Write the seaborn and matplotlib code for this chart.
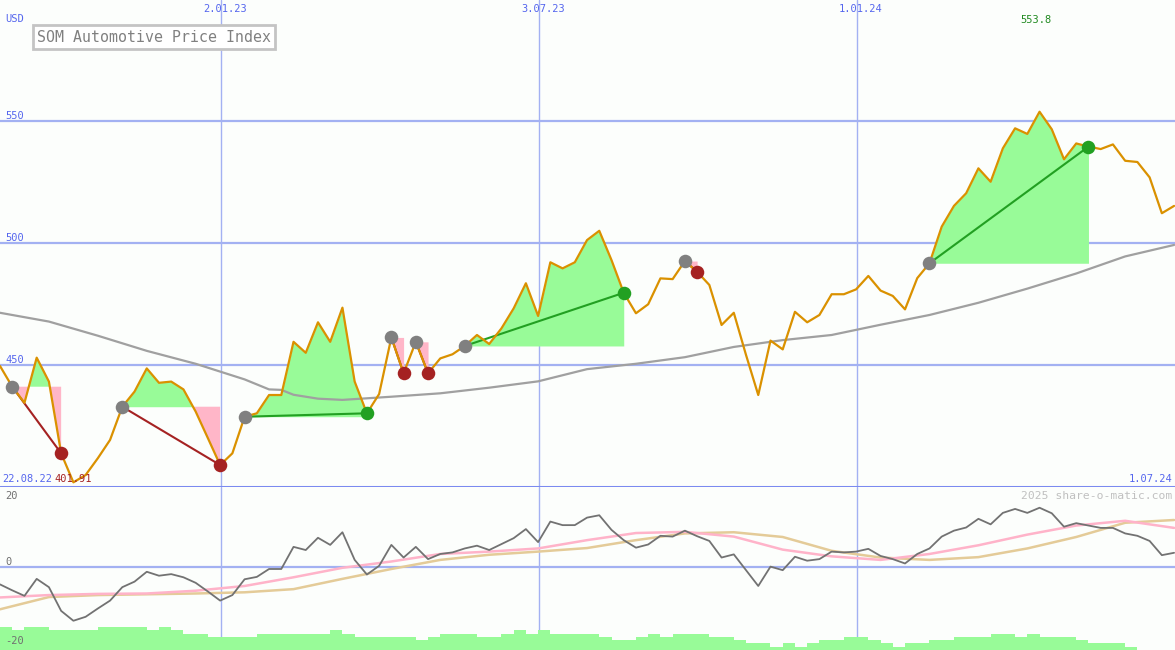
"""
SOM Automotive Price Index - weekly chart with trade signals and oscillator
"""
import numpy as np
import pandas as pd
import matplotlib
matplotlib.use("Agg")
import matplotlib.pyplot as plt
import seaborn as sns

# weekly closes (week 0 = first bar on the chart)
price = [449.6, 441.1, 434.5, 453.0, 443.2, 413.8, 401.91, 404.9, 411.8, 419.3,
         432.9, 439.1, 448.6, 442.7, 443.2, 440.0, 430.9, 420.0, 409.0, 413.8,
         428.8, 430.2, 437.7, 437.7, 459.5, 455.0, 467.5, 459.5, 473.5, 443.2,
         430.2, 438.1, 461.3, 446.6, 459.5, 446.6, 452.7, 454.4, 457.8, 462.3,
         458.6, 465.0, 473.2, 483.5, 470.1, 492.1, 489.6, 492.1, 501.2, 505.0,
         493.0, 479.6, 471.2, 474.9, 485.5, 485.2, 492.6, 488.2, 482.8, 466.4,
         471.4, 454.1, 437.7, 460.0, 456.4, 471.8, 467.5, 470.5, 479.0, 479.0,
         481.0, 486.5, 480.5, 478.3, 472.8, 485.6, 491.7, 506.7, 515.2, 520.4,
         530.6, 525.1, 538.8, 547.0, 544.7, 553.8, 546.6, 534.3, 540.8, 539.5,
         538.5, 540.4, 533.7, 533.2, 526.9, 512.2, 515.2]

# long moving average (grey), read at a few weeks
sma_weeks = [0, 4, 8, 12, 16, 20, 22, 23, 24, 26, 28, 32, 36, 40, 44, 48, 52,
             56, 60, 64, 68, 72, 76, 80, 84, 88, 92, 96]
sma = [471.4, 467.8, 462.0, 455.8, 450.5, 444.1, 440.0, 439.8, 437.8, 436.2,
       435.7, 437.0, 438.4, 440.7, 443.3, 448.3, 450.5, 453.2, 457.4, 460.2,
       462.3, 466.5, 470.5, 475.5, 481.3, 487.5, 494.5, 499.2]

# momentum oscillator (lower panel)
osc = [-4.4, -5.9, -7.3, -3.0, -5.1, -11.1, -13.6, -12.6, -10.5, -8.5,
       -5.1, -3.7, -1.2, -2.2, -1.8, -2.6, -4.0, -6.2, -8.5, -7.1,
       -3.1, -2.5, -0.5, -0.5, 5.1, 4.3, 7.4, 5.6, 8.8, 1.8,
       -1.9, 0.3, 5.6, 2.4, 5.1, 2.0, 3.3, 3.7, 4.7, 5.4,
       4.3, 5.8, 7.3, 9.6, 6.3, 11.5, 10.6, 10.6, 12.5, 13.1,
       9.4, 6.8, 4.9, 5.7, 7.9, 7.7, 9.2, 7.8, 6.6, 2.4,
       3.2, -0.8, -4.8, 0.1, -0.8, 2.6, 1.6, 2.0, 3.9, 3.7,
       3.9, 4.6, 2.8, 2.0, 0.9, 3.3, 4.7, 7.7, 9.2, 10.0,
       12.2, 10.8, 13.7, 14.7, 13.7, 15.0, 13.6, 10.2, 11.1, 10.5,
       9.9, 9.9, 8.5, 7.9, 6.6, 3.0, 3.6]

# oscillator averages, read every 4 weeks
avg_weeks = [0, 4, 8, 12, 16, 20, 24, 28, 32, 36, 40, 44, 48, 52, 56, 60, 64,
             68, 72, 76, 80, 84, 88, 92, 96]
osc_fast = [-7.7, -7.1, -6.8, -6.7, -6.0, -4.8, -2.6, -0.2, 1.4, 3.3, 3.9, 4.7,
            6.8, 8.6, 8.9, 7.7, 4.4, 2.7, 1.8, 3.3, 5.5, 8.2, 10.5, 11.7, 9.9]
osc_slow = [-10.7, -7.6, -7.1, -6.9, -6.7, -6.4, -5.6, -3.0, -0.5, 1.8, 3.1, 3.9,
            4.8, 6.8, 8.5, 8.8, 7.6, 4.1, 2.4, 1.8, 2.5, 4.7, 7.6, 11.2, 11.9]

# volume steps at the bottom
volume = [7, 6, 7, 7, 6, 6, 6, 6, 7, 7, 7, 7, 6, 7, 6, 5, 5, 4, 4, 4,
          4, 5, 5, 5, 5, 5, 5, 6, 5, 4, 4, 4, 4, 4, 3, 4, 5, 5, 5, 4,
          4, 5, 6, 5, 6, 5, 5, 5, 5, 4, 3, 3, 4, 5, 4, 5, 5, 5, 4, 4,
          3, 2, 2, 1, 2, 1, 2, 3, 3, 4, 4, 3, 2, 1, 2, 2, 3, 3, 4, 4,
          4, 5, 5, 4, 5, 4, 4, 4, 3, 2, 2, 2, 1]

# (entry week, exit week)
trades = [(1, 5), (10, 18), (20, 30), (32, 33), (34, 35), (38, 51), (56, 57), (76, 89)]

date_weeks = [18.07, 44.07, 70.07]
date_labels = ["2.01.23", "3.07.23", "1.01.24"]
price_ticks = [550, 500, 450]
osc_ticks = [20, 0, -20]
start_label = "22.08.22"
end_label = "1.07.24"
title = "SOM Automotive Price Index"
watermark = "2025 share-o-matic.com"

W, H = 1175, 650
BG = "#fcfefc"
GRID = "#a3b1f2"
BLUE = "#5566ee"
ORANGE = "#da9100"
FILL_UP = "#98fb98"
FILL_DN = "#ffb6c8"
WIN = "#22a022"
LOSS = "#a52222"

sns.set_theme(style="white")
plt.rcParams["font.family"] = ["DejaVu Sans Mono", "DejaVu Sans"]


def fx(px):
    return px / W


def fy(py):
    return 1 - py / H


df = pd.DataFrame({"week": np.arange(len(price)), "price": price, "osc": osc})
df_sma = pd.DataFrame({"week": sma_weeks, "sma": sma})
df_avg = pd.DataFrame({"week": avg_weeks, "fast": osc_fast, "slow": osc_slow})

fig = plt.figure(figsize=(W / 100, H / 100), dpi=100, facecolor=BG)
ax1 = fig.add_axes([0, fy(487), 1, 487 / H])
ax2 = fig.add_axes([0, 0, 1, fy(487)])
for ax in (ax1, ax2):
    ax.set_facecolor(BG)
    for s in ax.spines.values():
        s.set_visible(False)
    ax.set_xticks([])
    ax.set_yticks([])
    ax.set_xlim(0, W / 12.23)
    ax.set_xlabel("")
    ax.set_ylabel("")

ax1.set_ylim(400, 400 + 487 / 2.44)
ax2.set_ylim(-21.0, 20.25)

# grid
for v in price_ticks:
    ax1.axhline(v, color=GRID, lw=1.6, zorder=0)
for wk in date_weeks:
    ax1.axvline(wk, color=GRID, lw=1.0, zorder=0)
    ax2.axvline(wk, color=GRID, lw=1.0, zorder=0)
ax1.axhline(400, color="#7b8af0", lw=2.2, zorder=5, clip_on=False)
ax2.axhline(0, color=GRID, lw=1.6, zorder=0)

# trade fills and connecting lines
wk_arr = df["week"].to_numpy()
px_arr = df["price"].to_numpy()
for e, x in trades:
    w = wk_arr[e:x + 1]
    p = px_arr[e:x + 1]
    lvl = px_arr[e]
    ax1.fill_between(w, p, lvl, where=p >= lvl, interpolate=True,
                     color=FILL_UP, lw=0, zorder=1)
    ax1.fill_between(w, p, lvl, where=p <= lvl, interpolate=True,
                     color=FILL_DN, lw=0, zorder=1)

sns.lineplot(data=df_sma, x="week", y="sma", ax=ax1, color="#a0a0a0", lw=1.6, zorder=2)

for e, x in trades:
    c = WIN if px_arr[x] > px_arr[e] else LOSS
    ax1.plot([wk_arr[e], wk_arr[x]], [px_arr[e], px_arr[x]], color=c, lw=1.5, zorder=3)

sns.lineplot(data=df, x="week", y="price", ax=ax1, color=ORANGE, lw=1.6, zorder=4)

for e, x in trades:
    c = WIN if px_arr[x] > px_arr[e] else LOSS
    ax1.scatter(wk_arr[e], px_arr[e], s=95, color="#808080", lw=0, zorder=6)
    ax1.scatter(wk_arr[x], px_arr[x], s=95, color=c, lw=0, zorder=6)

# lower panel
sns.lineplot(data=df_avg, x="week", y="slow", ax=ax2, color="#e4cb98", lw=1.8, zorder=2)
sns.lineplot(data=df_avg, x="week", y="fast", ax=ax2, color="#ffb3c9", lw=1.8, zorder=3)
sns.lineplot(data=df, x="week", y="osc", ax=ax2, color="#727272", lw=1.3, zorder=4)
ax2.set_xlabel("")
ax2.set_ylabel("")
ax1.set_xlabel("")
ax1.set_ylabel("")

ax3 = ax2.twinx()
ax3.bar(np.arange(len(volume)), volume, width=1.0, align="edge",
        color=FILL_UP, lw=0)
ax3.set_ylim(0, 163 / 3.3)
ax3.set_xlim(0, W / 12.23)
ax3.set_yticks([])
for s in ax3.spines.values():
    s.set_visible(False)

# labels
fs = 7.5
fig.text(fx(5), fy(19), "USD", color=BLUE, fontsize=fs, va="center")
for v, py in zip(price_ticks, [116, 238, 360]):
    fig.text(fx(5), fy(py), str(v), color=BLUE, fontsize=fs, va="center")
for lab, wk in zip(date_labels, date_weeks):
    fig.text(fx(wk * 12.23 + 4), fy(9), lab, color=BLUE, fontsize=fs,
             ha="center", va="center")
fig.text(fx(2), fy(479), start_label, color=BLUE, fontsize=fs, va="center")
fig.text(fx(1172), fy(479), end_label, color=BLUE, fontsize=fs, va="center", ha="right")

i_min = int(np.argmin(px_arr))
i_max = int(np.argmax(px_arr))
fig.text(fx(wk_arr[i_min] * 12.23), fy(479), f"{px_arr[i_min]:g}", color=LOSS,
         fontsize=fs, ha="center", va="center")
fig.text(fx(wk_arr[i_max] * 12.23 - 4), fy(20), f"{px_arr[i_max]:g}", color="#208a20",
         fontsize=fs, ha="center", va="center")

fig.text(fx(37), fy(37), title, color="#808080", fontsize=10.7, va="center",
         bbox=dict(boxstyle="square,pad=0.3", fc="white", ec="#c4c4c4", lw=2))
fig.text(fx(1172), fy(496), watermark, color="#c0c0c0", fontsize=8.2,
         ha="right", va="center")
for v, py in zip(osc_ticks, [496, 562, 641]):
    fig.text(fx(5), fy(py), str(v), color="#707070", fontsize=fs, va="center")

fig.savefig("out.png", dpi=100, facecolor=BG)
plt.close(fig)
